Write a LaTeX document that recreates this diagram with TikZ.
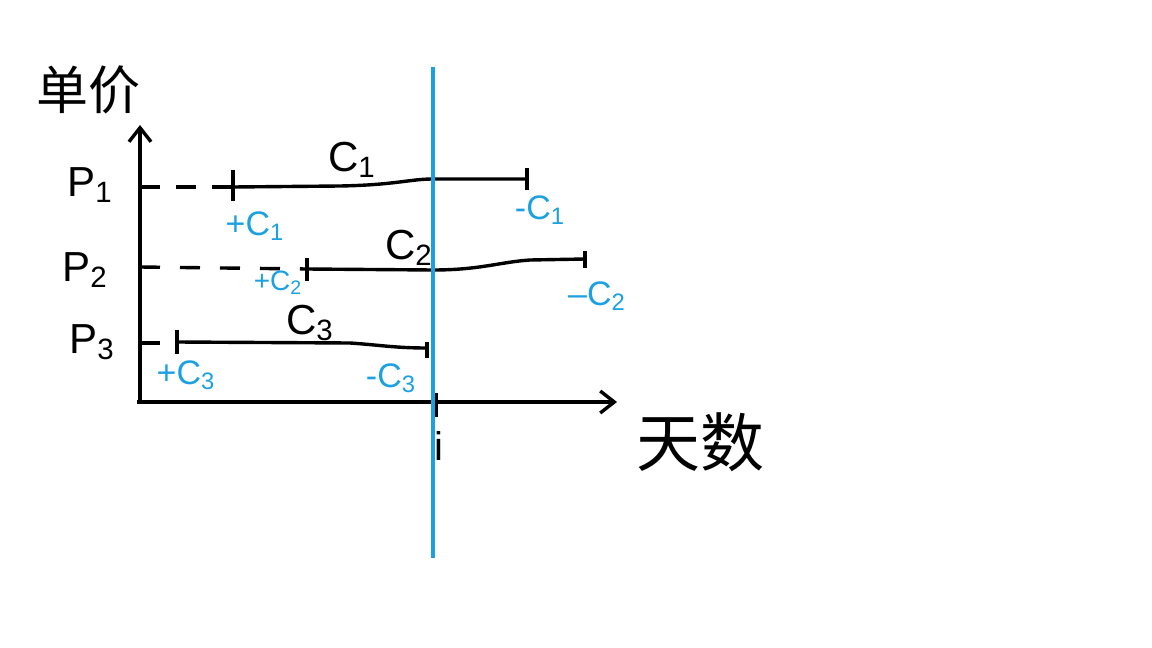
\documentclass[tikz,border=0pt]{standalone}
\usepackage{fontspec}
\setmainfont{Liberation Sans}
\newfontfamily\cjk{Noto Sans CJK SC}
\usetikzlibrary{arrows.meta}
\definecolor{priceBlue}{HTML}{1BA1E2}
\definecolor{priceInk}{HTML}{000000}
\tikzset{
  price diagram/.style={
    color=priceInk, line width=1.7pt, x=0.5pt, y=-0.5pt,
    >={Straight Barb[length=7pt,width=11pt]},
    every node/.style={inner sep=0pt, outer sep=0pt, text=priceInk}
  },
  price guide/.style={dash pattern=on 10pt off 8pt},
  price cut/.style={draw=priceBlue, line width=1.6pt},
  price tag/.style={text=priceBlue, font=\fontsize{17}{19}\selectfont},
  price name/.style={font=\fontsize{21}{23}\selectfont}
}

\begin{document}
\begin{tikzpicture}[price diagram]
    \useasboundingbox (0,0) rectangle (1152,648);
    % axes
    \coordinate (O) at (140,402);
    \coordinate (ytop) at (140,125);
    \coordinate (xstart) at (137,402);
    \coordinate (xend) at (617,402);
    \draw[->] (O) -- (ytop);
    \draw[->] (xstart) -- (xend);
    \node[font=\cjk\fontsize{26}{28}\selectfont] (price) at (88,90) {单价};
    \node[font=\cjk\fontsize{32}{34}\selectfont] (days) at (700,442) {天数};
    % price levels
    \node[price name] (p1) at (90,185) {P\textsubscript{1}};
    \node[price name] (p2) at (85,270) {P\textsubscript{2}};
    \node[price name] (p3) at (92,342) {P\textsubscript{3}};
    % level 1
    \coordinate (a1) at (140,187);
    \coordinate (s1) at (233,187);
    \coordinate (e1) at (527,179);
    \draw[price guide] (a1) -- (s1);
    \draw (s1) -- (340,186) .. controls (395,185) and (410,179) .. (433,179) -- (e1);
    \draw (s1) ++(0,-17) -- ++(0,31);
    \draw (e1) ++(0,-11) -- ++(0,22);
    \node[price name] (c1) at (352,160) {C\textsubscript{1}};
    \node[price tag] (plus1) at (255,226) {+C\textsubscript{1}};
    \node[price tag] (minus1) at (540,210) {-C\textsubscript{1}};
    % level 2
    \coordinate (a2) at (140,267);
    \coordinate (s2) at (307,269);
    \coordinate (e2) at (585,259);
    \draw[price guide,dash pattern=on 10pt off 10pt] (a2) -- (s2);
    \draw (s2) -- (433,270) .. controls (480,270) and (500,262) .. (530,260) -- (e2);
    \draw (s2) ++(0,-11) -- ++(0,23);
    \draw (e2) ++(0,-8) -- ++(0,17);
    \node[price name] (c2) at (409,248) {C\textsubscript{2}};
    \node[price tag,font=\fontsize{14}{16}\selectfont] (plus2) at (278,283) {+C\textsubscript{2}};
    \node[price tag] (minus2) at (597,296) {–C\textsubscript{2}};
    % level 3
    \coordinate (a3) at (140,343);
    \coordinate (s3) at (177,342);
    \coordinate (e3) at (427,348);
    \draw (a3) -- (160,343);
    \draw (s3) -- (350,343) .. controls (380,345) and (395,348) .. (e3);
    \draw (s3) ++(0,-12) -- ++(0,24);
    \draw (e3) ++(0,-6) -- ++(0,16);
    \node[price name] (c3) at (310,323) {C\textsubscript{3}};
    \node[price tag] (plus3) at (186,375) {+C\textsubscript{3}};
    \node[price tag] (minus3) at (391,378) {-C\textsubscript{3}};
    % day i
    \coordinate (ti) at (436,393);
    \draw (ti) -- ++(0,24);
    \node[font=\fontsize{20}{22}\selectfont] (i) at (439,446) {i};
    \coordinate (cuttop) at (433,67);
    \coordinate (cutbot) at (433,558);
    \draw[price cut] (cuttop) -- (cutbot);
\end{tikzpicture}
\end{document}
